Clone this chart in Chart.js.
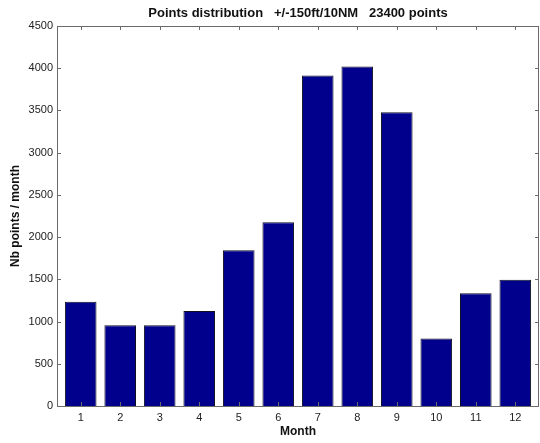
<!DOCTYPE html>
<html>
<head>
<meta charset="utf-8">
<script src="https://cdn.jsdelivr.net/npm/chart.js@4/dist/chart.umd.min.js"></script>
<style>
  html, body { margin: 0; padding: 0; background: #fff; }
  canvas { display: block; }
</style>
</head>
<body>
<canvas id="myChart" width="540" height="443"></canvas>
<script>
// month numbers on the x axis and point counts per month
var months = [1, 2, 3, 4, 5, 6, 7, 8, 9, 10, 11, 12];
var counts = [1235, 955, 955, 1125, 1845, 2175, 3915, 4020, 3480, 800, 1335, 1495];
var yTicks = [0, 500, 1000, 1500, 2000, 2500, 3000, 3500, 4000, 4500];

var FONT = "'Liberation Sans', Arial, sans-serif";
var AXIS_COLOR = "#6a6a6a";

// box round the plot + inward ticks on all four sides
var boxTicks = {
  id: "boxTicks",
  afterDraw: function(chart) {
    var c = chart.ctx, a = chart.chartArea;
    var xs = chart.scales.x, ys = chart.scales.y;
    c.save();
    c.strokeStyle = AXIS_COLOR;
    c.lineWidth = 1;
    c.beginPath();
    c.rect(Math.round(a.left) + 0.5, Math.round(a.top) + 0.5,
           Math.round(a.right - a.left) - 1, Math.round(a.bottom - a.top));
    c.stroke();
    c.beginPath();
    months.forEach(function(m) {
      var px = Math.round(xs.getPixelForValue(m)) + 0.5;
      c.moveTo(px, a.bottom); c.lineTo(px, a.bottom - 4);
      c.moveTo(px, a.top); c.lineTo(px, a.top + 4);
    });
    yTicks.forEach(function(v) {
      var py = Math.round(ys.getPixelForValue(v)) + 0.5;
      c.moveTo(a.left, py); c.lineTo(a.left + 4, py);
      c.moveTo(a.right, py); c.lineTo(a.right - 4, py);
    });
    c.stroke();
    c.restore();
  }
};

var ctx = document.getElementById("myChart").getContext("2d");
var myChart = new Chart(ctx, {
  type: "bar",
  data: {
    datasets: [
      {
        data: months.map(function(m, i) { return { x: m, y: counts[i] }; }),
        backgroundColor: "#00008c",
        borderColor: "#101020",
        borderWidth: 1,
        categoryPercentage: 1.0,
        barPercentage: 0.8
      }
    ]
  },
  options: {
    responsive: false,
    animation: false,
    devicePixelRatio: 1,
    layout: { padding: { top: 0, right: 1, bottom: 0, left: 0 } },
    plugins: {
      legend: { display: false },
      tooltip: { enabled: false },
      title: {
        display: true,
        fullSize: false,
        text: "Points distribution   +/-150ft/10NM   23400 points",
        color: "#111",
        font: { family: FONT, size: 13, weight: "bold" },
        padding: { top: 6, bottom: 4.4 }
      }
    },
    scales: {
      x: {
        type: "linear",
        offset: false,
        min: 0.4,
        max: 12.6,
        afterBuildTicks: function(s) {
          s.ticks = months.map(function(m) { return { value: m }; });
        },
        afterFit: function(s) { s.height = 37; },
        grid: { display: false, drawTicks: false, offset: false },
        border: { display: false },
        ticks: {
          color: "#222",
          padding: 5,
          maxRotation: 0,
          autoSkip: false,
          font: { family: FONT, size: 11 },
          callback: function(v) { return String(v); }
        },
        title: {
          display: true,
          text: "Month",
          color: "#111",
          font: { family: FONT, size: 12, weight: "bold" },
          padding: { top: 0, bottom: 4 }
        }
      },
      y: {
        min: 0,
        max: 4500,
        afterBuildTicks: function(s) {
          s.ticks = yTicks.map(function(v) { return { value: v }; });
        },
        afterFit: function(s) { s.width = 57; },
        grid: { display: false, drawTicks: false },
        border: { display: false },
        ticks: {
          color: "#222",
          padding: 4,
          font: { family: FONT, size: 11 },
          callback: function(v) { return String(v); }
        },
        title: {
          display: true,
          text: "Nb points / month",
          color: "#111",
          font: { family: FONT, size: 12, weight: "bold" },
          padding: { top: 8, bottom: 0 }
        }
      }
    }
  },
  plugins: [boxTicks]
});
</script>
</body>
</html>
